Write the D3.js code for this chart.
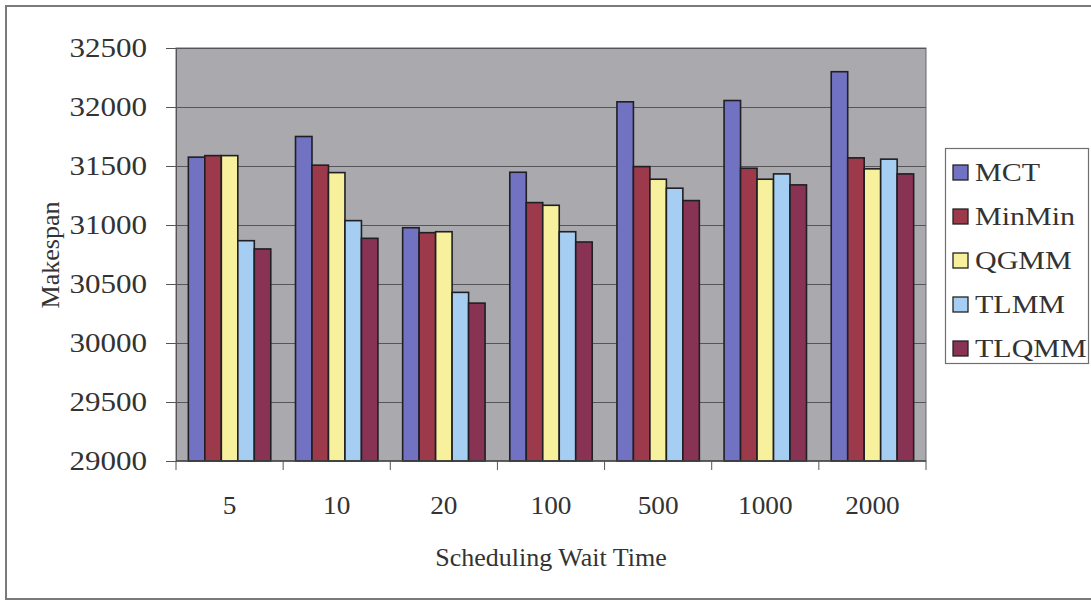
<!DOCTYPE html>
<html>
<head>
<meta charset="utf-8">
<script src="https://cdn.jsdelivr.net/npm/d3@7"></script>
<style>
  html, body { margin: 0; padding: 0; background: #fff; overflow: hidden; }
  text { font-family: "Liberation Serif", "Times New Roman", serif; fill: #333; }
</style>
</head>
<body>
<div id="chart"></div>
<script>
(function () {
    const categories = ["5", "10", "20", "100", "500", "1000", "2000"];
    const seriesNames = ["MCT", "MinMin", "QGMM", "TLMM", "TLQMM"];
    const seriesColors = ["#7272c2", "#9c3a4c", "#f7f09c", "#a6cdf2", "#883354"];

    const mct    = [31575, 31750, 30977, 31447, 32044, 32055, 32299];
    const minMin = [31588, 31507, 30935, 31190, 31495, 31481, 31569];
    const qgmm   = [31588, 31444, 30943, 31167, 31388, 31388, 31476];
    const tlmm   = [30867, 31037, 30429, 30943, 31312, 31433, 31558];
    const tlqmm  = [30797, 30887, 30338, 30856, 31207, 31340, 31433];
    const seriesValues = [mct, minMin, qgmm, tlmm, tlqmm];

    const yTicks = [29000, 29500, 30000, 30500, 31000, 31500, 32000, 32500];

    const FONT = "'Liberation Serif', 'Times New Roman', serif";
    const W = 1091, H = 601;
    const plot = { left: 176, right: 926, top: 48, bottom: 461 };

    const svg = d3.select("#chart").append("svg")
        .attr("width", W)
        .attr("height", H)
        .style("font-family", FONT);

    // outer frame
    svg.append("rect")
        .attr("x", 6).attr("y", 6)
        .attr("width", 1100).attr("height", 593)
        .attr("fill", "#fff")
        .attr("stroke", "#7a7a7a")
        .attr("stroke-width", 2);

    const x = d3.scaleBand()
        .domain(categories)
        .range([plot.left, plot.right])
        .padding(0);

    const xs = d3.scaleBand()
        .domain(seriesNames)
        .range([0, x.bandwidth()])
        .paddingInner(0)
        .paddingOuter(0.75);

    const y = d3.scaleLinear()
        .domain([29000, 32500])
        .range([plot.bottom, plot.top]);

    // plot area
    svg.append("rect")
        .attr("x", plot.left).attr("y", plot.top)
        .attr("width", plot.right - plot.left)
        .attr("height", plot.bottom - plot.top)
        .attr("fill", "#a9a9ae")
        .attr("stroke", "#666")
        .attr("stroke-width", 1);

    // gridlines
    svg.append("g")
        .selectAll("line")
        .data(yTicks.slice(1))
        .enter()
        .append("line")
        .attr("x1", plot.left).attr("x2", plot.right)
        .attr("y1", d => Math.round(y(d)) + 0.5)
        .attr("y2", d => Math.round(y(d)) + 0.5)
        .attr("stroke", "#55555a")
        .attr("stroke-width", 1.2);

    // bars
    const rows = categories.map((c, i) => ({
        cat: c,
        vals: seriesNames.map((s, j) => ({ series: s, idx: j, value: seriesValues[j][i] }))
    }));

    const groups = svg.append("g").selectAll("g")
        .data(rows)
        .enter()
        .append("g")
        .attr("transform", d => `translate(${x(d.cat)},0)`);

    groups.selectAll("rect")
        .data(d => d.vals)
        .enter()
        .append("rect")
        .attr("x", d => xs(d.series))
        .attr("y", d => y(d.value))
        .attr("width", xs.bandwidth())
        .attr("height", d => y(29000) - y(d.value))
        .attr("fill", d => seriesColors[d.idx])
        .attr("stroke", "#1f1f24")
        .attr("stroke-width", 1.6);

    // y axis
    const yAxis = svg.append("g")
        .attr("transform", `translate(${plot.left},0)`)
        .call(d3.axisLeft(y).tickValues(yTicks).tickFormat(d3.format("d")).tickSize(10).tickSizeOuter(0));
    yAxis.attr("font-family", null).attr("font-size", null);
    yAxis.select(".domain").attr("stroke", "#555");
    yAxis.selectAll(".tick line").attr("stroke", "#555");
    yAxis.selectAll(".tick text")
        .attr("x", null)
        .attr("transform", "translate(-29,0) scale(1.15,1)")
        .style("font-size", "27px")
        .attr("fill", "#333");

    // x axis: tick marks on category boundaries, labels at centres
    const xAxisG = svg.append("g");
    xAxisG.append("line")
        .attr("x1", plot.left).attr("x2", plot.right)
        .attr("y1", plot.bottom).attr("y2", plot.bottom)
        .attr("stroke", "#444").attr("stroke-width", 1.5);
    const bounds = categories.map(c => x(c)).concat([x(categories.at(-1)) + x.bandwidth()]);
    xAxisG.selectAll("line.tick")
        .data(bounds)
        .enter()
        .append("line")
        .attr("class", "tick")
        .attr("x1", d => d).attr("x2", d => d)
        .attr("y1", plot.bottom).attr("y2", plot.bottom + 9)
        .attr("stroke", "#555");
    xAxisG.selectAll("text")
        .data(categories)
        .enter()
        .append("text")
        .attr("transform", d => `translate(${x(d) + x.bandwidth() / 2},514) scale(1.05,1)`)
        .attr("text-anchor", "middle")
        .style("font-size", "26px")
        .text(d => d);

    // axis titles
    svg.append("text")
        .attr("x", 551).attr("y", 566)
        .attr("text-anchor", "middle")
        .style("font-size", "26px")
        .text("Scheduling Wait Time");

    svg.append("text")
        .attr("transform", "translate(59,255) rotate(-90)")
        .attr("text-anchor", "middle")
        .style("font-size", "26px")
        .text("Makespan");

    // legend
    const legend = svg.append("g");
    legend.append("rect")
        .attr("x", 945.5).attr("y", 148.5)
        .attr("width", 143).attr("height", 215)
        .attr("fill", "#fff")
        .attr("stroke", "#6f6f6f")
        .attr("stroke-width", 1.2);

    const items = legend.selectAll("g.item")
        .data(seriesNames)
        .enter()
        .append("g")
        .attr("class", "item")
        .attr("transform", (d, i) => `translate(953,${172 + i * 44})`);

    items.append("rect")
        .attr("x", 0).attr("y", -7)
        .attr("width", 15).attr("height", 15)
        .attr("fill", (d, i) => seriesColors[i])
        .attr("stroke", "#222")
        .attr("stroke-width", 1.3);

    items.append("text")
        .attr("transform", "translate(22,9) scale(1.2,1)")
        .style("font-size", "25px")
        .text(d => d);
})();
</script>
</body>
</html>
